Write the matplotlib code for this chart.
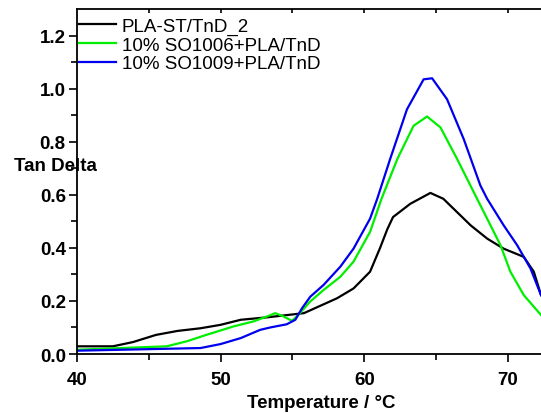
import matplotlib.pyplot as plt
import numpy as np

plt.rcParams['font.family'] = ['Liberation Sans', 'DejaVu Sans']

# PLA-ST/TnD_2
t_black = [40.0, 42.5, 43.9, 45.5, 47.0, 48.6, 50.0, 51.4, 53.2, 55.8, 58.1, 59.25, 60.4, 61.1,
           61.6, 62.0, 63.2, 64.6, 65.5, 67.4, 68.55, 69.7, 71.1, 71.8, 72.3]
v_black = [0.029, 0.029, 0.045, 0.072, 0.087, 0.097, 0.11, 0.129, 0.138, 0.154, 0.21, 0.247, 0.31, 0.40,
           0.47, 0.516, 0.566, 0.607, 0.585, 0.485, 0.435, 0.397, 0.366, 0.31, 0.222]

# 10% SO1006+PLA/TnD
t_green = [40.0, 46.25, 47.65, 49.0, 50.9, 52.3, 53.4, 53.8, 54.4, 54.96, 55.3, 56.24, 57.16, 58.33,
           59.25, 60.4, 61.2, 62.3, 63.43, 64.37, 65.3, 66.46, 67.85, 68.55, 69.48, 70.17, 71.1, 72.3]
v_green = [0.016, 0.029, 0.048, 0.072, 0.104, 0.123, 0.145, 0.154, 0.141, 0.125, 0.141, 0.198, 0.241, 0.291,
           0.348, 0.46, 0.585, 0.735, 0.86, 0.895, 0.854, 0.735, 0.585, 0.51, 0.41, 0.31, 0.222, 0.147]

# 10% SO1009+PLA/TnD
t_blue = [40.0, 48.6, 50.0, 51.4, 52.75, 53.45, 54.6, 55.2, 55.66, 56.24, 57.16, 58.33, 59.25, 60.4,
          60.9, 61.8, 62.97, 64.13, 64.72, 65.76, 66.92, 68.08, 68.55, 69.7, 70.64, 71.57, 72.3]
v_blue = [0.0125, 0.0225, 0.0375, 0.06, 0.091, 0.10, 0.112, 0.129, 0.172, 0.216, 0.26, 0.329, 0.397, 0.51,
          0.585, 0.735, 0.922, 1.035, 1.039, 0.96, 0.81, 0.635, 0.585, 0.485, 0.41, 0.322, 0.222]

fig = plt.figure(figsize=(5.41, 4.14), dpi=100)
ax = fig.add_axes([0.1423, 0.1425, 0.8577, 0.8333])

ax.plot(t_black, v_black, color='black', lw=1.6, label='PLA-ST/TnD_2')
ax.plot(t_green, v_green, color='#00ee00', lw=1.6, label='10% SO1006+PLA/TnD')
ax.plot(t_blue, v_blue, color='#0000ee', lw=1.6, label='10% SO1009+PLA/TnD')

ax.set_xlim(40, 72.3)
ax.set_ylim(0, 1.3)
ax.spines['right'].set_visible(False)
for s in ['left', 'bottom', 'top']:
    ax.spines[s].set_linewidth(1.3)

ax.set_xticks([40, 50, 60, 70])
ax.set_xticks(np.arange(45, 72, 10), minor=True)
ax.set_yticks(np.arange(0, 1.21, 0.2))
ax.set_yticks(np.arange(0.1, 1.3, 0.2), minor=True)
ax.set_yticklabels(['0.0', '0.2', '0.4', '0.6', '0.8', '1.0', '1.2'])
ax.tick_params(axis='both', which='major', labelsize=13.5, length=6, width=1.2, direction='out')
ax.tick_params(axis='both', which='minor', length=4, width=1.2, direction='out')
ax.tick_params(axis='x', pad=6)
ax.tick_params(axis='y', pad=2)
for lab in ax.get_xticklabels() + ax.get_yticklabels():
    lab.set_fontweight('bold')

# inward ticks along the top spine
top = ax.secondary_xaxis('top')
top.set_xticks(np.arange(45, 72, 5))
top.tick_params(direction='in', length=3, width=1.2, labeltop=False)
top.spines['top'].set_visible(False)

ax.legend(loc='upper left', frameon=False, fontsize=13.5, handlelength=2.0,
          borderaxespad=0.0, borderpad=0.1, labelspacing=0.08, handletextpad=0.3,
          bbox_to_anchor=(0.0, 0.98))

fig.text(0.026, 0.597, 'Tan Delta', fontsize=13.5, fontweight='bold', va='center', ha='left')
fig.text(0.593, 0.026, 'Temperature / °C', fontsize=13.5, fontweight='bold', va='center', ha='center')

fig.savefig('out.png', dpi=100)
